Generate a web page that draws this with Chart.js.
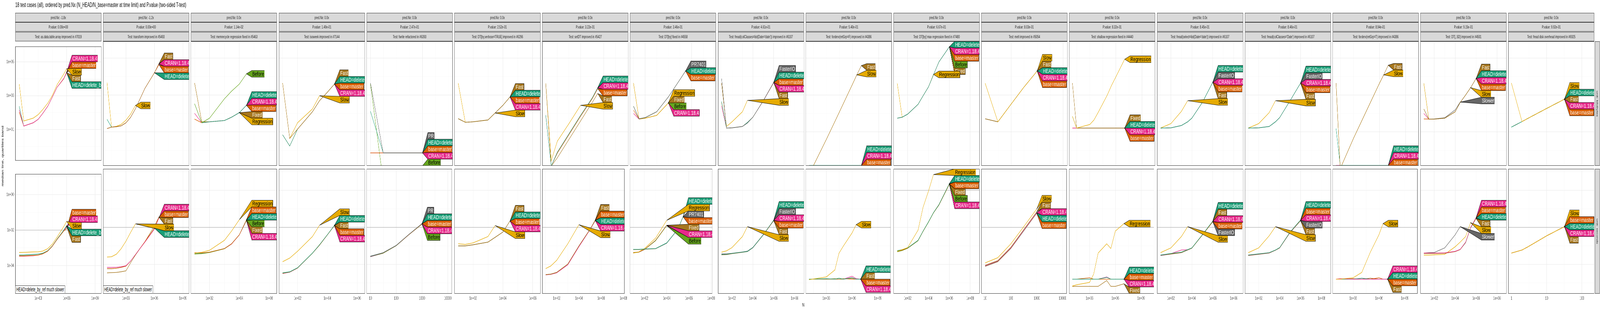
<!DOCTYPE html>
<html>
<head>
<meta charset="utf-8">
<script src="https://cdn.jsdelivr.net/npm/chart.js@4"></script>
<style>
  html, body { margin: 0; padding: 0; background: #fff; overflow: hidden; }
  #page { width: 7200px; height: 800px; position: absolute; left: 0; top: 0; transform-origin: 0 0;
          font-family: 'Liberation Sans', Arial, sans-serif; }
  .abs { position: absolute; }
  .strip { position: absolute; background: #d9d9d9; border: 1px solid #333; box-sizing: border-box;
           font-size: 11px; color: #1a1a1a; text-align: center; line-height: 22px; white-space: nowrap; overflow: hidden; }
  .vstrip { position: absolute; background: #d9d9d9; border: 1px solid #333; box-sizing: border-box; }
  .vstrip span { position: absolute; left: 50%; top: 50%; transform: translate(-50%, -50%) rotate(90deg);
                 font-size: 11px; color: #1a1a1a; white-space: nowrap; }
  .note { position: absolute; background: #fff; border: 1px solid #333; font-size: 14px; padding: 0 4px;
          line-height: 19px; white-space: nowrap; }
  canvas { position: absolute; }
</style>
</head>
<body>
<div id="page">
<div class="abs" style="left:69px;top:4px;font-size:16px;">18 test cases (all), ordered by pred.Nx (N_HEAD/N_base=master at time limit) and P.value (two-sided T-test)</div>
<div class="abs" style="left:11px;top:400px;font-size:13px;transform:translate(-50%,-50%) rotate(-90deg);white-space:nowrap;">median line, quartiles band</div>
<div class="abs" style="left:3610px;top:774px;font-size:13px;">N</div>
<div class="vstrip" style="left:7177px;top:106px;width:22px;height:319px;"><span>unit: kilobytes</span></div>
<div class="vstrip" style="left:7177px;top:433px;width:22px;height:320px;"><span>unit: seconds</span></div>
</div>
<script>
const H = 'HEAD=delete_by_ref', B = 'base=master', C = 'CRAN=1.18.4';

const predNx = ['-1.8x', '-1.2x', '0.0x', '0.0x', '0.0x', '0.0x', '0.0x', '0.0x', '0.0x',
  '0.0x', '0.0x', '0.0x', '0.0x', '0.0x', '0.0x', '0.0x', '0.0x', '0.0x'];
const pValues = ['0.00e+00', '0.00e+00', '1.14e-02', '1.49e-01', '2.47e-01', '2.52e-01', '3.22e-01', '3.46e-01',
  '4.61e-01', '5.40e-01', '6.67e-01', '8.03e-01', '8.32e-01', '8.45e-01', '8.46e-01', '8.94e-01', '9.15e-01', '9.92e-01'];
const testNames = ['as.data.table.array improved in #7019', 'transform improved in #5493',
  'memrecycle regression fixed in #5463', 'isoweek improved in #7144', 'fwrite refactored in #6393',
  'DT[by,verbose=TRUE] improved in #6296', 'setDT improved in #5427', 'DT[by] fixed in #4558',
  "fread(colClasses=list(Date='date')) improved in #6107", 'forderv(retGrp=F) improved in #4386',
  'DT[by] max regression fixed in #7480', 'melt improved in #5054', 'shallow regression fixed in #4440',
  "fread(select=list(Date='date')) improved in #6107", "fread(colClasses='Date') improved in #6107",
  'forderv(retGrp=T) improved in #4386', 'DT[,.SD] improved in #4501', 'fread disk overhead improved in #6925'];

// x axis range (log10 of N) and major tick exponents per panel
const xMinExp = [0.59, 0.59, 0.75, 0.75, 0.855, 0.75, 0.70, 0.70, 0.66, 0.61, 0.65, 0.855, 0.62, 0.68, 0.68, 0.61, 0.68, -0.09];
const xMaxExp = [9.66, 9.66, 6.52, 6.52, 4.16, 6.52, 8.1, 8.1, 8.9, 10.5, 8.9, 4.16, 10.5, 8.9, 8.9, 10.5, 8.9, 2.35];
const xTickExps = [[3, 6, 9], [3, 6, 9], [2, 4, 6], [2, 4, 6], [1, 2, 3, 4], [2, 4, 6], [2, 4, 6, 8], [2, 4, 6, 8],
  [2, 4, 6, 8], [3, 6, 9], [2, 4, 6, 8], [1, 2, 3, 4], [3, 6, 9], [2, 4, 6, 8], [2, 4, 6, 8], [3, 6, 9], [2, 4, 6, 8], [0, 1, 2]];
const timeLimit = [0.01, 0.01, 0.01, 0.01, 0.01, 0.01, 0.01, 0.01, 0.01, 0.01, 1, 0.01, 0.01, 0.01, 0.01, 0.01, 0.01, 0.01];

// ---- data: N values, memory (kilobytes) and time (seconds) per series ----
const p1N = [10, 30, 300, 1e3, 3e3, 1e4, 3e4, 1e5, 5e5, 1e6];
const p1Mem = {
  [C]: [145, 16, 25, 40, 89, 234, 790, 3.2e3, 1.05e4, 2.5e4],
  [B]: [105, 16, 25, 40, 89, 234, 790, 3.2e3, 1e4, 2.3e4],
  Slow: [4.8e3, 32, 47, 76, 150, 355, 1e3, 4.5e3, 1.9e4, 3.9e4],
  Fast: [105, 16, 25, 40, 89, 234, 790, 3.2e3, 1e4, 2.3e4],
  [H]: [234, 16, 25, 40, 89, 234, 790, 3.2e3, 1e4, 2.3e4] };
const p1Time = {
  [B]: [3.5e-4, 3.5e-4, 3.7e-4, 3.9e-4, 4.6e-4, 6.5e-4, 1.2e-3, 3e-3, 9e-3, 1.2e-2],
  [C]: [3.4e-4, 3.4e-4, 3.6e-4, 3.9e-4, 4.6e-4, 6.5e-4, 1.2e-3, 3e-3, 9e-3, 1.5e-2],
  Slow: [5.5e-4, 5.6e-4, 5.9e-4, 6e-4, 6.6e-4, 8.9e-4, 1.6e-3, 4.1e-3, 1.6e-2, 3.1e-2],
  [H]: [4e-4, 4e-4, 4.3e-4, 4.5e-4, 5e-4, 6.9e-4, 1.26e-3, 3.2e-3, 1e-2, 1.8e-2],
  Fast: [3.6e-4, 3.6e-4, 3.8e-4, 4e-4, 4.7e-4, 6.6e-4, 1.2e-3, 3e-3, 9.5e-3, 1.6e-2] };

const p2N = [10, 30, 100, 300, 1e3, 3e3, 1e4, 1e5, 1e6, 3e6];
const p2Mem = {
  Fast: [15, 18, 19, 21, 31, 60, 178, 2.3e3, 1.6e4, 5e4],
  [C]: [15, 18, 19, 21, 31, 60, 178, 2.3e3, 1.6e4, 4.8e4],
  [B]: [15, 18, 19, 21, 31, 60, 178, 2.3e3, 1.6e4, 4.4e4],
  [H]: [48, 18, 19, 21, 31, 60, 178, 2.3e3, 1.6e4],
  Slow: [4.8e3, 18, 20, 25, 43, 89, 270] };
const p2Time = {
  [C]: [6.9e-5, 6.9e-5, 7e-5, 7.5e-5, 8.5e-5, 1.5e-4, 3.4e-4, 1.6e-3, 8e-3, 3.2e-2],
  [B]: [5.9e-5, 5.9e-5, 6.2e-5, 6.9e-5, 8.1e-5, 1.5e-4, 3.4e-4, 1.7e-3, 9.1e-3, 3.6e-2],
  Fast: [3.5e-5, 3.6e-5, 3.7e-5, 4e-5, 4.5e-5, 1.2e-4, 3.2e-4, 1.7e-3, 1.2e-2, 3.6e-2],
  Slow: [2.5e-4, 2.6e-4, 3.6e-4, 6.9e-4, 1.8e-3, 5.2e-3, 1.55e-2],
  [H]: [5.9e-5, 5.9e-5, 6.2e-5, 6.9e-5, 8.1e-5, 1.5e-4, 3.4e-4, 1.7e-3, 9.1e-3] };

const p3N = [10, 30, 100, 1e3, 3e3, 1e4, 3e4];
const p3Mem = {
  Before: [330, 31, 55, 620, 1.6e3, 3.9e3, 1.4e4],
  [H]: [330, 31, 35, 41, 62, 110, 275],
  [C]: [100, 31, 35, 41, 62, 110, 275],
  [B]: [49, 31, 35, 41, 62, 110, 275],
  Fixed: [4.4e3, 35, 35, 41, 62, 110],
  Regression: [4.4e3, 35, 35, 41, 62, 110] };
const p3Time = {
  Regression: [4.1e-4, 4.5e-4, 5.8e-4, 2e-3, 6.3e-3, 2.6e-2],
  [B]: [4.3e-4, 4.2e-4, 4.6e-4, 7.2e-4, 1.3e-3, 4e-3, 2.6e-2],
  [H]: [4.1e-4, 4.1e-4, 4.6e-4, 7.2e-4, 1.3e-3, 4e-3, 2.5e-2],
  Before: [3.7e-4, 3.8e-4, 4.4e-4, 7e-4, 1.3e-3, 4e-3, 2.4e-2],
  Fixed: [3.6e-4, 3.8e-4, 4.4e-4, 7e-4, 1.3e-3, 4e-3, 2.4e-2],
  [C]: [4.1e-4, 4.1e-4, 4.5e-4, 7e-4, 1.25e-3, 3.9e-3, 2.3e-2] };

const p4N = [10, 30, 100, 1e3, 3e3, 1e4, 3e4];
const p4Common = [6.9, 1.7, 14, 123, 490, 1.4e3, 3.9e3];
const p4Mem = {
  Fast: [4.4e3, 4.4, 14, 123, 490, 1.4e3, 3.9e3],
  [H]: p4Common, [B]: p4Common, [C]: p4Common,
  Slow: [4.4e3, 4.4, 31, 174, 910] };
const p4Time = {
  Slow: [1.4e-4, 2.2e-4, 5.1e-4, 3.2e-3, 1.3e-2],
  [H]: [3.5e-5, 4e-5, 6.6e-5, 4.1e-4, 1.15e-3, 4e-3, 1.3e-2],
  Fast: [3.3e-5, 3.9e-5, 6.5e-5, 4e-4, 1.15e-3, 4e-3, 1.26e-2],
  [B]: [3.4e-5, 3.9e-5, 6.4e-5, 4e-4, 1.1e-3, 3.9e-3, 1.25e-2],
  [C]: [3.2e-5, 3.8e-5, 6.3e-5, 4e-4, 1.1e-3, 3.9e-3, 1.24e-2] };

const p5N = [10, 31, 100, 300, 1000];
const p5Mem = {
  PR: [4.4e3, 0.72, 0.72, 0.72, 0.72],
  [H]: [130, 0.72, 0.72, 0.72, 0.72],
  [B]: [0.72, 0.72, 0.72, 0.72, 0.72],
  [C]: [0.72, 0.72, 0.72, 0.72, 0.72],
  Before: [4e3, 0.02, 0.02, 0.02, 0.02] };
const p5Time = {
  PR: [2.8e-4, 4.3e-4, 1.07e-3, 4e-3, 1.6e-2],
  [H]: [2.7e-4, 4.2e-4, 1.05e-3, 4e-3, 1.6e-2],
  [B]: [2.7e-4, 4.1e-4, 1.04e-3, 3.9e-3, 1.55e-2],
  [C]: [2.6e-4, 4.1e-4, 1.03e-3, 3.9e-3, 1.55e-2],
  Before: [2.6e-4, 4e-4, 1.02e-3, 3.9e-3, 1.5e-2] };

const p6N = [10, 30, 100, 1e3, 3e3, 1e4, 3e4];
const p6MemCommon = [52, 33, 35, 44, 105, 275, 780];
const p6TimeCommon = [1e-3, 1e-3, 1.15e-3, 1.6e-3, 2.9e-3, 5.6e-3, 2.2e-2];
const p6Mem = { Fast: p6MemCommon, [H]: p6MemCommon, [B]: p6MemCommon, [C]: p6MemCommon,
  Slow: [4.4e3, 33, 35, 44, 105] };
const p6Time = { Fast: p6TimeCommon, [H]: p6TimeCommon, [B]: p6TimeCommon, [C]: p6TimeCommon,
  Slow: [1.3e-3, 1.2e-3, 1.45e-3, 3.2e-3, 1.26e-2] };

const p7N = [10, 30, 100, 1e3, 1e4, 1e5, 3e5];
const p7Mem = {
  [H]: [83, 0.14, 0.78, 7.8, 78, 690, 2.5e3],
  [C]: [83, 0.14, 0.78, 7.8, 78, 690, 2.4e3],
  [B]: [83, 0.14, 0.7, 7, 70, 620, 2.2e3],
  Fast: [4.4e3, 0.14, 0.39, 3.9, 39, 390, 1.2e3],
  Slow: [4.4e3, 0.28, 3.1, 28, 275] };
const p7Time = {
  Fast: [2.8e-5, 3e-5, 3.7e-5, 1.05e-4, 1e-3, 7.9e-3, 2.6e-2],
  [B]: [2.8e-5, 3e-5, 3.7e-5, 1.05e-4, 1e-3, 7.9e-3, 2.5e-2],
  [H]: [2.8e-5, 3e-5, 3.7e-5, 1.05e-4, 1e-3, 7.9e-3, 2.4e-2],
  [C]: [2.7e-5, 2.9e-5, 3.5e-5, 9.5e-5, 9e-4, 7.5e-3, 2.3e-2],
  Slow: [5.9e-5, 8.3e-5, 1.66e-4, 1.3e-3, 1.4e-2] };

const p8N = [10, 30, 100, 1e3, 1e4, 1e5, 3e5];
const p8Mem = {
  PR7401: [245, 51, 59, 123, 780, 6.9e3, 2e4],
  [H]: [245, 51, 59, 123, 780, 6.9e3, 2e4],
  [B]: [150, 51, 59, 123, 780, 6.9e3, 2e4],
  Regression: [4.4e3, 49, 55, 78, 370],
  Fixed: [4.4e3, 49, 55, 78, 370],
  Before: [250, 49, 55, 78, 370],
  [C]: [100, 49, 55, 78, 370] };
const p8Time = {
  [H]: [6.5e-4, 6.5e-4, 6.8e-4, 7.2e-4, 1.45e-3, 7.9e-3, 3.9e-2],
  Regression: [4.1e-4, 4.7e-4, 7.2e-4, 2.6e-3, 2.4e-2],
  PR7401: [6.4e-4, 6.4e-4, 6.7e-4, 7.1e-4, 1.4e-3, 7.8e-3, 3.8e-2],
  [B]: [6.3e-4, 6.3e-4, 6.6e-4, 7e-4, 1.4e-3, 7.7e-3, 3.7e-2],
  Fixed: [4.4e-4, 4.7e-4, 6.5e-4, 2e-3, 1.3e-2],
  [C]: [4.3e-4, 4.6e-4, 6.4e-4, 2e-3, 1.3e-2],
  Before: [4.2e-4, 4.5e-4, 6.3e-4, 1.9e-3, 1.25e-2] };

const p9N = [10, 30, 100, 1e3, 3e3, 1e4, 1e5, 1e6];
const p9Mem = {
  FasterIO: [7.8e3, 16, 16.5, 19.5, 30, 62, 490, 4.9e3],
  [H]: [440, 16, 16.5, 19.5, 32, 62, 490, 4.9e3],
  [B]: [400, 16, 16.5, 19.5, 32, 62, 490, 4.8e3],
  [C]: [250, 16, 16.5, 19.5, 32, 62, 480, 4.7e3],
  Fast: [4.4e3, 16, 16.5, 19.5, 32, 62, 480, 4.7e3],
  Slow: [4.4e3, 19.5, 35, 123, 510] };
const p9Time = {
  [H]: [3.4e-4, 3.5e-4, 3.9e-4, 4.6e-4, 5e-4, 8.1e-4, 4e-3, 2.5e-2],
  FasterIO: [3.7e-4, 3.7e-4, 4e-4, 4.7e-4, 5.2e-4, 8.3e-4, 4.1e-3, 2.4e-2],
  [C]: [3.4e-4, 3.5e-4, 3.9e-4, 4.6e-4, 5e-4, 8e-4, 4e-3, 2.4e-2],
  [B]: [3.3e-4, 3.4e-4, 3.8e-4, 4.5e-4, 5e-4, 8e-4, 3.9e-3, 2.3e-2],
  Fast: [3.3e-4, 3.4e-4, 3.8e-4, 4.5e-4, 4.9e-4, 7.9e-4, 3.9e-3, 2.3e-2],
  Slow: [4.6e-4, 5.4e-4, 8.1e-4, 3.2e-3, 1.1e-2] };

const p10N = [10, 1e3, 1e4, 3e4, 1e5, 1e6, 3e6, 1e7];
const p10Flat = [0.15, 0.15, 0.15, 0.15, 0.15, 0.15, 0.15, 0.15];
const p10Mem = {
  Fast: [0.05, 4.1, 40, 120, 400, 4e3, 1.23e4, 3.9e4],
  Slow: [0.05, 4.1, 40, 120, 400, 4e3, 1.23e4],
  [H]: p10Flat, [C]: p10Flat, [B]: p10Flat };
const p10Time = {
  Slow: [1.5e-5, 2.1e-5, 5e-5, 4e-4, 1e-3, 5e-3, 1.4e-2],
  [H]: [1.6e-5, 1.7e-5, 1.6e-5, 1.8e-5, 1.6e-5, 1.9e-5, 1.6e-5, 1.6e-5],
  Fast: [1.6e-5, 1.6e-5, 1.7e-5, 1.6e-5, 1.6e-5, 1.8e-5, 1.6e-5, 1.6e-5],
  [B]: [1.6e-5, 1.6e-5, 1.6e-5, 1.6e-5, 1.7e-5, 1.6e-5, 1.6e-5, 1.6e-5],
  [C]: [1.6e-5, 1.6e-5, 1.6e-5, 1.6e-5, 1.6e-5, 2.3e-5, 1.7e-5, 1.6e-5] };

const p11N = [10, 30, 100, 1e3, 3e3, 1e4, 3e4, 1e5, 1e6];
const p11MemCommon = [55, 62, 91, 310, 890, 2.75e3, 1.23e4, 6.2e4, 4.1e5];
const p11Mem = { [H]: p11MemCommon, [C]: p11MemCommon, [B]: p11MemCommon, Before: p11MemCommon, Fixed: p11MemCommon,
  Regression: [4.4e3, 62, 91, 310, 890, 2.75e3, 1.3e4] };
const p11Time = {
  Regression: [5.1e-4, 6.3e-4, 8.1e-4, 7.1e-3, 0.12, 0.91, 7.1],
  [H]: [5.5e-4, 6.3e-4, 7.8e-4, 2e-3, 6.3e-3, 2e-2, 6.3e-2, 0.17, 2.3],
  [B]: [5.4e-4, 6.2e-4, 7.7e-4, 2e-3, 6.2e-3, 2e-2, 6.2e-2, 0.17, 2.2],
  Fixed: [5e-4, 5.8e-4, 7.5e-4, 1.95e-3, 6.1e-3, 1.95e-2, 6.1e-2, 0.16, 2.1],
  Before: [4.8e-4, 5.6e-4, 7.4e-4, 1.9e-3, 6e-3, 1.9e-2, 6e-2, 0.16, 2.1],
  [C]: [5.3e-4, 6.1e-4, 7.6e-4, 1.95e-3, 6.1e-3, 1.95e-2, 6.1e-2, 0.16, 2.1] };

const p12N = [10, 31, 100, 300, 1000];
const p12MemCommon = [51, 35, 320, 2.5e3, 2e4];
const p12Mem = { Slow: [4.4e3, 35, 320, 2.5e3, 2e4], Fast: p12MemCommon, [H]: p12MemCommon, [C]: p12MemCommon, [B]: p12MemCommon };
const p12Time = {
  Slow: [1.2e-4, 2.3e-4, 1.3e-3, 1e-2, 9.8e-2],
  Fast: [9e-5, 1.6e-4, 8.5e-4, 7e-3, 7e-2],
  [C]: [8.3e-5, 1.5e-4, 7.8e-4, 6.3e-3, 6.2e-2],
  [H]: [8e-5, 1.45e-4, 7.5e-4, 6e-3, 6e-2],
  [B]: [7.8e-5, 1.4e-4, 7.3e-4, 5.9e-3, 5.8e-2] };

const p13N = [10, 30, 1e3, 3e3, 1e4, 1e5, 3e5, 1e6, 1e7];
const p13Mem = {
  Regression: [69, 16, 25, 44, 123, 980, 3.2e3, 9.8e3, 8.7e4],
  Fixed: [4.4e3, 16, 16, 16, 16, 16, 16, 16, 16],
  [H]: [69, 16, 16, 16, 16, 16, 16, 16, 16],
  [C]: [16, 16, 16, 16, 16, 16, 16, 16, 16],
  [B]: [16, 16, 16, 16, 16, 16, 16, 16, 16] };
const p13Time = {
  Regression: [6.8e-6, 7.9e-6, 1.07e-5, 3e-5, 4.1e-4, 1.3e-3, 7.2e-4, 6.3e-3, 1.6e-2],
  [H]: [1.6e-5, 1.6e-5, 1.6e-5, 1.6e-5, 1.6e-5, 2e-5, 1.6e-5, 1.6e-5, 1.6e-5],
  [B]: [1.6e-5, 1.6e-5, 1.9e-5, 1.6e-5, 1.6e-5, 1.6e-5, 1.6e-5, 1.6e-5, 1.6e-5],
  [C]: [1.6e-5, 1.6e-5, 1.6e-5, 1.6e-5, 1.6e-5, 2.1e-5, 1.6e-5, 1.6e-5, 1.6e-5],
  Fixed: [6.5e-6, 6.5e-6, 6.5e-6, 6.5e-6, 6.5e-6, 1.35e-5, 6.5e-6, 6.5e-6, 9e-6] };

const p14N = [10, 100, 1e3, 4e3, 1e4, 1e5, 1e6];
const p14MemCommon = [16, 16.5, 22, 35, 55, 390, 4.9e3];
const p14Mem = { [H]: p14MemCommon, FasterIO: p14MemCommon, [C]: p14MemCommon, [B]: p14MemCommon, Fast: p14MemCommon,
  Slow: [16, 28, 129, 490] };
const p14Time = {
  [H]: [3.2e-4, 3.9e-4, 4.6e-4, 6.3e-4, 7.8e-4, 4e-3, 2.2e-2],
  Fast: [3.2e-4, 3.8e-4, 4.5e-4, 6.2e-4, 7.7e-4, 3.9e-3, 2.1e-2],
  [C]: [3.1e-4, 3.8e-4, 6e-4, 6.2e-4, 7.7e-4, 3.9e-3, 2.1e-2],
  [B]: [3.1e-4, 3.7e-4, 4.4e-4, 6.1e-4, 7.6e-4, 3.8e-3, 2e-2],
  FasterIO: [3e-4, 3.6e-4, 4.3e-4, 6e-4, 7.5e-4, 3.8e-3, 2e-2],
  Slow: [4.3e-4, 7.8e-4, 3.2e-3, 1.1e-2] };

const p15N = [10, 100, 1e3, 4e3, 1e4, 1e5, 1e6];
const p15MemCommon = [16, 16.5, 19.5, 35, 59, 490, 4.4e3];
const p15Mem = { [H]: p15MemCommon, FasterIO: p15MemCommon, [C]: p15MemCommon, [B]: p15MemCommon, Fast: p15MemCommon,
  Slow: [16, 28, 110, 490] };
const p15Time = {
  [H]: [3.2e-4, 3.7e-4, 4.3e-4, 6e-4, 8.1e-4, 5.6e-3, 2.5e-2],
  [B]: [3.2e-4, 3.7e-4, 4.3e-4, 6e-4, 8e-4, 5.5e-3, 2.4e-2],
  [C]: [3.1e-4, 3.6e-4, 4.2e-4, 5.9e-4, 7.9e-4, 5.4e-3, 2.4e-2],
  FasterIO: [3.1e-4, 3.6e-4, 4.2e-4, 5.9e-4, 7.8e-4, 5.3e-3, 2.3e-2],
  Fast: [3e-4, 3.5e-4, 4.1e-4, 5.8e-4, 7.7e-4, 5.2e-3, 2.3e-2],
  Slow: [4.3e-4, 7.8e-4, 3.5e-3, 1.1e-2] };

const p16N = [10, 30, 1e3, 1e4, 1e5, 1e6, 3e6, 1e7];
const p16Flat = [0.15, 0.15, 0.15, 0.15, 0.15, 0.15, 0.15, 0.15];
const p16Mem = {
  Fast: [4.4e3, 0.1, 4.4, 44, 440, 4.4e3, 1.23e4, 4.1e4],
  Slow: [4.4e3, 0.1, 4.4, 44, 440, 4.4e3, 1.23e4],
  [H]: [15, 0.15, 0.15, 0.15, 0.15, 0.15, 0.15, 0.15],
  [C]: p16Flat, [B]: p16Flat };
const p16Time = {
  Slow: [1.6e-5, 1.6e-5, 1.9e-5, 3.7e-5, 4.6e-4, 4e-3, 1.6e-2],
  [C]: [1.6e-5, 1.7e-5, 1.6e-5, 1.6e-5, 1.6e-5, 1.6e-5, 1.6e-5, 1.6e-5],
  [H]: [1.6e-5, 1.6e-5, 1.6e-5, 1.8e-5, 1.6e-5, 1.6e-5, 1.6e-5, 1.6e-5],
  [B]: [1.6e-5, 1.6e-5, 1.6e-5, 1.6e-5, 1.6e-5, 1.9e-5, 1.6e-5, 1.6e-5],
  Fast: [1.6e-5, 1.6e-5, 1.7e-5, 1.6e-5, 1.8e-5, 1.6e-5, 1.6e-5, 1.6e-5] };

const p17N = [10, 30, 100, 1e3, 1e4, 3e4, 1e5, 3e5, 1e6];
const p17Mem = {
  Fast: [174, 49, 49, 55, 123, 390, 1e3, 2.5e3, 7.8e3],
  [H]: [174, 49, 49, 55, 123, 390, 1e3, 2.5e3, 7.8e3],
  [C]: [100, 49, 49, 55, 123, 390, 1e3, 2.5e3, 7.8e3],
  [B]: [50, 49, 49, 55, 123, 390, 1e3, 2.5e3, 7.8e3],
  Slow: [4.4e3, 49, 49, 55, 123, 390, 1e3, 2.5e3],
  Slower: [4.4e3, 49, 50, 58, 155, 410] };
const p17Time = {
  [C]: [4.1e-4, 4.1e-4, 4.1e-4, 4.2e-4, 5.1e-4, 6.5e-4, 1.6e-3, 1e-2, 3.4e-2],
  [B]: [4e-4, 4e-4, 4e-4, 4.1e-4, 5e-4, 6.4e-4, 1.6e-3, 1e-2, 3.3e-2],
  [H]: [4e-4, 4e-4, 4e-4, 4.1e-4, 5e-4, 6.4e-4, 1.55e-3, 9.8e-3, 3.2e-2],
  Fast: [3.9e-4, 3.9e-4, 3.9e-4, 4e-4, 4.9e-4, 6.3e-4, 1.5e-3, 9.5e-3, 3e-2],
  Slow: [3.2e-4, 3.2e-4, 3.3e-4, 3.5e-4, 9e-4, 1.6e-3, 3.2e-3, 1.8e-2],
  Slower: [4.1e-4, 4.3e-4, 4.4e-4, 7.8e-4, 4e-3, 1.1e-2] };

const p18N = [1, 2, 3, 10, 32];
const p18MemCommon = [18, 36, 55, 186, 590];
const p18TimeCommon = [4.1e-4, 6e-4, 9.1e-4, 3.5e-3, 1.1e-2];
const p18Mem = { Slow: [4.4e3, 36, 55, 186, 590], [H]: p18MemCommon, Fast: p18MemCommon, [C]: p18MemCommon, [B]: p18MemCommon };
const p18Time = { Slow: p18TimeCommon, [B]: p18TimeCommon, [H]: p18TimeCommon, [C]: p18TimeCommon, Fast: p18TimeCommon };

const panelN = [p1N, p2N, p3N, p4N, p5N, p6N, p7N, p8N, p9N, p10N, p11N, p12N, p13N, p14N, p15N, p16N, p17N, p18N];
const panelMem = [p1Mem, p2Mem, p3Mem, p4Mem, p5Mem, p6Mem, p7Mem, p8Mem, p9Mem, p10Mem, p11Mem, p12Mem, p13Mem, p14Mem, p15Mem, p16Mem, p17Mem, p18Mem];
const panelTime = [p1Time, p2Time, p3Time, p4Time, p5Time, p6Time, p7Time, p8Time, p9Time, p10Time, p11Time, p12Time, p13Time, p14Time, p15Time, p16Time, p17Time, p18Time];

const seriesColors = {
  [H]: '#1B9E77', [B]: '#D95F02', [C]: '#E7298A', Slow: '#E6AB02', Fast: '#A6761D',
  Before: '#66A61E', Regression: '#E6AB02', Fixed: '#A6761D', PR: '#666666', PR7401: '#666666',
  FasterIO: '#666666', Slower: '#666666'
};
const darkText = ['Slow', 'Regression', 'Before'];

// ---- layout ----
const PANEL_LEFT = 69, PANEL_PITCH = 395.2, PANEL_W = 387;
const TOP_Y = 106, TOP_H = 319, BOT_Y = 433, BOT_H = 320;
const FONT = "'Liberation Sans', Arial, sans-serif";
const page = document.getElementById('page');

// the browser window may be narrower than the 7200px design: stretch it to fill
const fitX = window.innerWidth / 7200, fitY = window.innerHeight / 800;
if (Math.abs(fitX - 1) > 0.01 || Math.abs(fitY - 1) > 0.01) {
  page.style.transform = 'scale(' + fitX + ',' + fitY + ')';
}

function expLabel(e) {
  const s = e < 0 ? '-' : '+';
  return '1e' + s + String(Math.abs(e)).padStart(2, '0');
}

function gridTicks(majors, lo, hi) {
  const step = majors.length > 1 ? majors[1] - majors[0] : 1;
  const out = [];
  for (let e = majors[0] - step; e <= majors[majors.length - 1] + step + 1e-9; e += step / 2) {
    if (e >= lo && e <= hi) out.push({ e: e, major: majors.some(m => Math.abs(m - e) < 1e-9) });
  }
  return out;
}

const panelDecor = {
  id: 'panelDecor',
  beforeDatasetsDraw(chart) {
    const o = chart.options.plugins.panelDecor;
    if (o.limit == null) return;
    const a = chart.chartArea, ctx = chart.ctx;
    const y = chart.scales.y.getPixelForValue(o.limit);
    ctx.save();
    ctx.strokeStyle = '#b0b0b0';
    ctx.lineWidth = 1.2;
    ctx.beginPath(); ctx.moveTo(a.left, y); ctx.lineTo(a.right, y); ctx.stroke();
    ctx.restore();
  },
  afterDatasetsDraw(chart) {
    const a = chart.chartArea, ctx = chart.ctx;
    const h = 17, stretch = 1.2;
    ctx.save();
    ctx.beginPath(); ctx.rect(a.left, a.top, a.right - a.left, a.bottom - a.top); ctx.clip();
    ctx.font = '15px ' + FONT;
    const ends = chart.data.datasets.map((ds, i) => {
      const pts = chart.getDatasetMeta(i).data;
      const p = pts[pts.length - 1];
      return { name: ds.label, x: p.x, y: Math.min(Math.max(p.y, a.top), a.bottom) };
    });
    // neighbouring labels share one stack
    const clusters = [];
    ends.forEach(e => {
      const last = clusters[clusters.length - 1];
      if (last && Math.abs(last[last.length - 1].y - e.y) < 70) last.push(e);
      else clusters.push([e]);
    });
    clusters.forEach(cl => {
      const cy = cl.reduce((s, e) => s + e.y, 0) / cl.length;
      let top = cy - cl.length * h / 2;
      top = Math.max(a.top, Math.min(top, a.bottom - cl.length * h));
      const lx = Math.max(...cl.map(e => e.x)) + 24;
      cl.forEach((e, i) => {
        const y0 = top + i * h;
        const w = ctx.measureText(e.name).width * stretch + 4;
        ctx.fillStyle = seriesColors[e.name];
        ctx.strokeStyle = '#000';
        ctx.lineWidth = 0.9;
        ctx.beginPath();
        ctx.moveTo(e.x, e.y);
        ctx.lineTo(lx, y0);
        ctx.lineTo(lx + w, y0);
        ctx.lineTo(lx + w, y0 + h);
        ctx.lineTo(lx, y0 + h);
        ctx.closePath();
        ctx.fill(); ctx.stroke();
        ctx.save();
        ctx.translate(lx + 2, y0 + h / 2 + 1);
        ctx.scale(stretch, 1);
        ctx.fillStyle = darkText.includes(e.name) ? '#000' : '#fff';
        ctx.textBaseline = 'middle';
        ctx.fillText(e.name, 0, 0);
        ctx.restore();
      });
    });
    ctx.restore();
    ctx.save();
    ctx.strokeStyle = '#333';
    ctx.lineWidth = 1;
    ctx.strokeRect(a.left + 0.5, a.top + 0.5, a.right - a.left - 1, a.bottom - a.top - 1);
    ctx.restore();
  }
};

function buildPanel(k, row) {
  const left = PANEL_LEFT + PANEL_PITCH * k;
  const firstCol = k === 0;
  const yAxisW = firstCol ? 49 : 0;
  const xAxisH = row === 1 ? 22 : 0;
  const canvas = document.createElement('canvas');
  const w = PANEL_W + yAxisW, hgt = (row === 0 ? TOP_H : BOT_H) + xAxisH;
  canvas.style.width = w + 'px'; canvas.style.height = hgt + 'px';
  canvas.width = w; canvas.height = hgt;
  canvas.style.left = (left - yAxisW) + 'px';
  canvas.style.top = (row === 0 ? TOP_Y : BOT_Y) + 'px';
  page.appendChild(canvas);

  const N = panelN[k];
  const series = row === 0 ? panelMem[k] : panelTime[k];
  const datasets = Object.keys(series).map(name => ({
    label: name,
    data: series[name].map((v, i) => ({ x: N[i], y: v })),
    borderColor: seriesColors[name],
    borderWidth: 1.4,
    pointRadius: 0,
    tension: 0,
    fill: false
  }));

  const xMaj = xTickExps[k];
  const xGrid = gridTicks(xMaj, xMinExp[k], xMaxExp[k]);
  const yMaj = row === 0 ? [1, 3, 5] : [-4, -2, 0];
  const yLo = row === 0 ? -0.84 : -5.58, yHi = row === 0 ? 5.91 : 1.16;
  const yGrid = gridTicks(yMaj, yLo, yHi);
  const plainX = Math.max(...xMaj) <= 4;

  new Chart(canvas, {
    type: 'line',
    data: { datasets },
    options: {
      responsive: false,
      animation: false,
      devicePixelRatio: 2,
      layout: { padding: 0 },
      plugins: { legend: { display: false }, tooltip: { enabled: false },
        panelDecor: { limit: row === 1 ? timeLimit[k] : null } },
      scales: {
        x: {
          type: 'logarithmic',
          min: Math.pow(10, xMinExp[k]), max: Math.pow(10, xMaxExp[k]),
          afterBuildTicks: s => { s.ticks = xGrid.map(t => ({ value: Math.pow(10, t.e), major: t.major })); },
          afterFit: s => { s.height = xAxisH; },
          border: { display: false },
          grid: { drawTicks: false,
            color: c => (c.tick && c.tick.major) ? '#ebebeb' : '#f4f4f4',
            lineWidth: c => (c.tick && c.tick.major) ? 1.1 : 0.6 },
          ticks: { display: row === 1, autoSkip: false, maxRotation: 0, padding: 5, color: '#4d4d4d',
            font: { size: 12, family: FONT },
            callback: (v, i) => {
              if (!xGrid[i] || !xGrid[i].major) return '';
              const e = Math.round(xGrid[i].e);
              return plainX ? String(Math.pow(10, e)) : expLabel(e);
            } }
        },
        y: {
          type: 'logarithmic',
          min: Math.pow(10, yLo), max: Math.pow(10, yHi),
          afterBuildTicks: s => { s.ticks = yGrid.map(t => ({ value: Math.pow(10, t.e), major: t.major })); },
          afterFit: s => { s.width = yAxisW; },
          border: { display: false },
          grid: { drawTicks: false,
            color: c => (c.tick && c.tick.major) ? '#ebebeb' : '#f4f4f4',
            lineWidth: c => (c.tick && c.tick.major) ? 1.1 : 0.6 },
          ticks: { display: firstCol, autoSkip: false, padding: 6, color: '#4d4d4d',
            font: { size: 12, family: FONT },
            callback: (v, i) => (yGrid[i] && yGrid[i].major) ? expLabel(Math.round(yGrid[i].e)) : '' }
        }
      }
    },
    plugins: [panelDecor]
  });
}

for (let k = 0; k < 18; k++) {
  const left = PANEL_LEFT + PANEL_PITCH * k;
  const texts = ['pred.Nx: ' + predNx[k], 'P.value: ' + pValues[k], 'Test: ' + testNames[k]];
  texts.forEach((t, j) => {
    const d = document.createElement('div');
    d.className = 'strip';
    d.style.left = left + 'px';
    d.style.top = (33 + j * 24.4) + 'px';
    d.style.width = PANEL_W + 'px';
    d.style.height = '24px';
    d.textContent = t;
    page.appendChild(d);
  });
  buildPanel(k, 0);
  buildPanel(k, 1);
}

[0, 1].forEach(k => {
  const d = document.createElement('div');
  d.className = 'note';
  d.style.left = (PANEL_LEFT + PANEL_PITCH * k) + 'px';
  d.style.top = '732px';
  d.textContent = 'HEAD=delete_by_ref much slower';
  page.appendChild(d);
});
</script>
</body>
</html>
